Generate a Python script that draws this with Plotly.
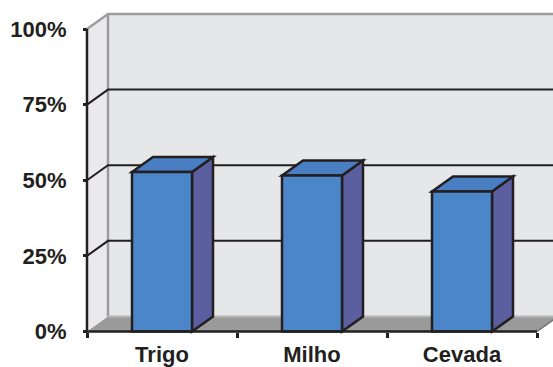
import plotly.graph_objects as go

# Data
categories = ["Trigo", "Milho", "Cevada"]
values = [52.7, 51.6, 46.3]
y_ticks = [0, 25, 50, 75, 100]
y_tick_labels = ["0%", "25%", "50%", "75%", "100%"]

W, H = 553, 367

# 3D look: depth offset of the back plane in data units
DX = 0.14       # along the category axis
DY = 4.96       # along the value axis (percent)
HALF = 0.2      # half bar width

INK = "#231f20"
WALL_BACK = "#e6e7e9"
WALL_SIDE = "#eaeaec"
WALL_EDGE = "#9c9c9c"
FLOOR = "#9a9a9a"
FLOOR_EDGE = "#b8b8b8"
BAR_FRONT = "#4a86c8"
BAR_TOP = "#4a7ec3"
BAR_SIDE = "#5b5f9f"

n = len(categories)
x_lo, x_hi = -0.5, n - 0.5
far = x_hi + 1.0

def poly(pts):
    return "M " + " L ".join(f"{x},{y}" for x, y in pts) + " Z"

def seg(pts):
    return "M " + " L ".join(f"{x},{y}" for x, y in pts)

shapes = []

# back wall
shapes.append(dict(type="path", path=poly([(x_lo + DX, DY), (far, DY), (far, 100 + DY), (x_lo + DX, 100 + DY)]),
                   fillcolor=WALL_BACK, line=dict(width=0)))
# side wall
shapes.append(dict(type="path", path=poly([(x_lo, 0), (x_lo + DX, DY), (x_lo + DX, 100 + DY), (x_lo, 100)]),
                   fillcolor=WALL_SIDE, line=dict(width=0)))
# floor
shapes.append(dict(type="path", path=poly([(x_lo, 0), (x_lo + DX, DY), (x_hi + DX, DY), (x_hi, 0)]),
                   fillcolor=FLOOR, line=dict(width=0)))
shapes.append(dict(type="path", path=seg([(x_lo + DX, DY), (far, DY)]),
                   line=dict(color=FLOOR_EDGE, width=2)))
shapes.append(dict(type="path", path=seg([(x_hi, 0), (x_hi + DX, DY)]),
                   line=dict(color="#6e6e6e", width=1.5)))
# wall edges
shapes.append(dict(type="path", path=seg([(x_lo, 100), (x_lo + DX, 100 + DY), (far, 100 + DY)]),
                   line=dict(color=WALL_EDGE, width=2.5)))
shapes.append(dict(type="path", path=seg([(x_lo + DX, DY), (x_lo + DX, 100 + DY)]),
                   line=dict(color=WALL_EDGE, width=2.5)))

# gridlines on side and back walls
for v in y_ticks[1:-1]:
    shapes.append(dict(type="path", path=seg([(x_lo, v), (x_lo + DX, v + DY), (far, v + DY)]),
                       line=dict(color=INK, width=2)))

# bars as boxes
for i, v in enumerate(values):
    l, r = i - HALF, i + HALF
    outline = dict(color=INK, width=2.5)
    shapes.append(dict(type="path", path=poly([(r, 0), (r + DX, DY), (r + DX, v + DY), (r, v)]),
                       fillcolor=BAR_SIDE, line=outline))
    shapes.append(dict(type="path", path=poly([(l, v), (l + DX, v + DY), (r + DX, v + DY), (r, v)]),
                       fillcolor=BAR_TOP, line=outline))
    shapes.append(dict(type="path", path=poly([(l, 0), (r, 0), (r, v), (l, v)]),
                       fillcolor=BAR_FRONT, line=outline))

# front axis lines
shapes.append(dict(type="path", path=seg([(x_lo, 100), (x_lo, 0), (x_hi, 0)]),
                   line=dict(color=INK, width=2.5)))

# pixel calibration of the axes
px_per_cat = 150.0
x_left_px = 87.0
y_zero_px = 331.5
px_per_pct = 3.025
x_range = [x_lo - x_left_px / px_per_cat, x_lo + (W - x_left_px) / px_per_cat]
y_range = [-(H - y_zero_px) / px_per_pct, y_zero_px / px_per_pct]

fig = go.Figure()
fig.add_trace(go.Scatter(x=list(range(n)), y=values, mode="markers",
                         marker=dict(opacity=0), hoverinfo="skip", showlegend=False))

label_font = dict(family="Liberation Sans, Arial, sans-serif", size=22, color=INK)

fig.update_layout(
    width=W, height=H,
    margin=dict(l=0, r=0, t=0, b=0),
    paper_bgcolor="white", plot_bgcolor="white",
    showlegend=False,
    shapes=shapes,
    xaxis=dict(
        range=x_range, domain=[0, 1], anchor="free", position=(H - y_zero_px) / H,
        tickmode="array", tickvals=list(range(n)),
        ticktext=[f"<b>{c}</b>" for c in categories],
        ticks="", showgrid=False, zeroline=False, showline=False,
        tickfont=label_font, ticklabelstandoff=7,
        minor=dict(tickmode="array", tickvals=[x_lo + k for k in range(n + 1)],
                   ticks="outside", ticklen=5, tickwidth=2.5, tickcolor=INK, showgrid=False),
    ),
    yaxis=dict(
        range=y_range, domain=[0, 1], anchor="free", position=x_left_px / W,
        tickmode="array", tickvals=y_ticks,
        ticktext=[f"<b>{t}</b>" for t in y_tick_labels],
        ticks="outside", ticklen=4, tickwidth=2.5, tickcolor=INK,
        showgrid=False, zeroline=False, showline=False,
        tickfont=label_font, ticklabelstandoff=12,
    ),
)

fig.write_html("out.html")
